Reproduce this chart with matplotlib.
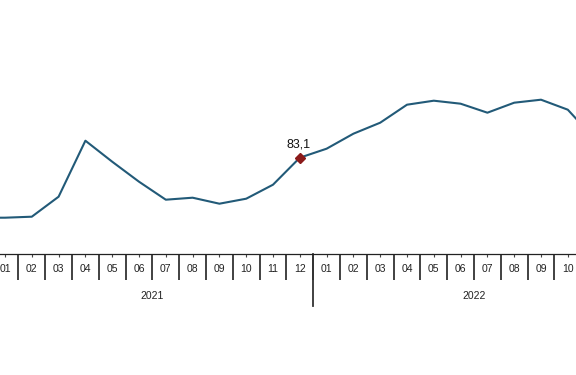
import matplotlib
matplotlib.use("Agg")
import matplotlib.pyplot as plt
import matplotlib.transforms as mtransforms

plt.rcParams['font.family'] = ['Liberation Sans', 'DejaVu Sans']

# Data (first value is 2020-12, then 2021-01 ... 2022-11)
months = ["01", "02", "03", "04", "05", "06", "07", "08", "09", "10", "11", "12",
          "01", "02", "03", "04", "05", "06", "07", "08", "09", "10", "11", "12"]
values = [77.1, 77.1, 77.2, 79.2, 84.8, 82.7, 80.7, 78.9, 79.1, 78.5, 79.0, 80.4, 83.1,
          84.0, 85.5, 86.6, 88.4, 88.8, 88.5, 87.6, 88.6, 88.9, 87.9, 85.0]
years = ["2021", "2022"]
highlight_label = "83,1"
highlight_index = 12  # 2021-12 within values list

line_color = "#225a78"
marker_color = "#8b1a1a"

fig = plt.figure(figsize=(5.76, 3.75), dpi=100)
ax = fig.add_axes([0, (375 - 254) / 375, 1, 254 / 375])

x = list(range(-1, len(values) - 1))
ax.plot(x, values, color=line_color, lw=1.5, solid_joinstyle='round', zorder=3)
ax.plot([x[highlight_index]], [values[highlight_index]], marker='D', ms=5.5,
        color=marker_color, zorder=4)
ax.annotate(highlight_label, (x[highlight_index], values[highlight_index]),
            xytext=(-1, 5), textcoords='offset points', ha='center', va='bottom',
            fontsize=9, color='#111111')

for s in ['top', 'left', 'right']:
    ax.spines[s].set_visible(False)
ax.spines['bottom'].set_color('#222222')
ax.spines['bottom'].set_linewidth(0.9)
ax.set_yticks([])

tick_pos = list(range(0, len(months)))
ax.set_xticks(tick_pos)
ax.set_xticklabels(months, fontsize=7.5, color='#222222')
ax.tick_params(axis='x', which='major', direction='out', length=2.2, width=0.8,
               color='#444444', pad=5)
ax.set_xticks([i - 0.5 for i in range(0, len(months) + 1)], minor=True)
ax.tick_params(axis='x', which='minor', direction='out', length=19, width=1.3,
               color='#333333')

ax.set_xlim(-5 / 26.8, (576 - 5) / 26.8)
ax.set_ylim(83.1 - (254 - 157.7) * 0.1, 83.1 + 157.7 * 0.1)

trans = mtransforms.blended_transform_factory(ax.transData, ax.transAxes)
ax.plot([11.5, 11.5], [0, -52 / 254], transform=trans, color='#333333', lw=1.3,
        clip_on=False)
for k, yr in enumerate(years):
    ax.text(5.5 + 12 * k, -(296 - 254) / 254, yr, transform=trans, ha='center',
            va='center', fontsize=7.5, color='#222222')

fig.savefig("out.png", dpi=100)
